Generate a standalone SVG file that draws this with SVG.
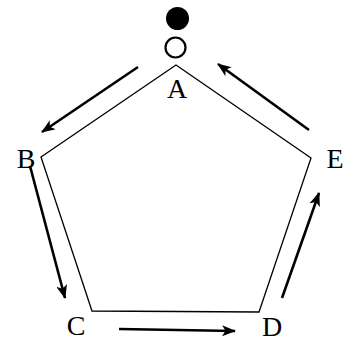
<svg xmlns="http://www.w3.org/2000/svg" width="353" height="344" viewBox="0 0 353 344">
<defs>
<marker id="ah" viewBox="0 0 14 11" refX="13" refY="5.5" markerWidth="14" markerHeight="11" markerUnits="userSpaceOnUse" orient="auto">
<path d="M0,0 L14,5.5 L0,11 L3.5,5.5 Z" fill="#000"/>
</marker>
</defs>
<style>
.lbl{font-family:"Liberation Serif","DejaVu Serif",serif;font-size:28px;fill:#000;text-anchor:middle}
.edge{fill:none;stroke:#000;stroke-width:1.3;stroke-linejoin:miter}
.arr{fill:none;stroke:#000;stroke-width:2.6;marker-end:url(#ah)}
</style>
<rect width="353" height="344" fill="#fff"/>
<g id="pentagon">
<polygon class="edge" points="176,65 41,157 92,311 259,312 311,158"/>
</g>
<g id="tokens">
<circle cx="177.5" cy="18.5" r="11.5" fill="#000"/>
<circle cx="175.5" cy="47.5" r="10" fill="#fff" stroke="#000" stroke-width="2.2"/>
</g>
<g id="A"><text class="lbl" x="177" y="98">A</text></g>
<g id="B"><text class="lbl" x="26" y="168">B</text></g>
<g id="C"><text class="lbl" x="76" y="335">C</text></g>
<g id="D"><text class="lbl" x="272" y="336">D</text></g>
<g id="E"><text class="lbl" x="335" y="168">E</text></g>
<g id="connectors">
<line class="arr" x1="138" y1="67" x2="42" y2="132"/>
<line class="arr" x1="30" y1="166" x2="65" y2="298"/>
<line class="arr" x1="119" y1="329" x2="235" y2="331"/>
<line class="arr" x1="282" y1="298" x2="319" y2="193"/>
<line class="arr" x1="309" y1="130" x2="218" y2="64"/>
</g>
</svg>
